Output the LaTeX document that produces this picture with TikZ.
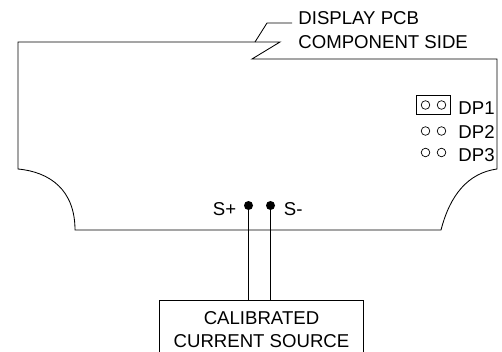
\documentclass[tikz,border=0pt]{standalone}
\usepackage{fontspec}
\setmainfont{Liberation Sans}
\usetikzlibrary{positioning}
\begin{document}
\begin{tikzpicture}[x=1pt,y=-1pt,line width=0.85pt]
        \tikzset{lbl/.style={inner sep=0pt,font=\fontsize{18.6pt}{23.5pt}\selectfont},
                 pin/.style={circle,draw,inner sep=0pt,minimum size=8.6pt,line width=0.7pt},
                 sense/.style={circle,fill=black,inner sep=0pt,minimum size=9pt}}
        \useasboundingbox (0,0) rectangle (502,352);
        % board outline
        \draw (255,42) -- (18,42) -- (18,169) .. controls (50,172) and (75,190) .. (75,230)
            -- (441,230) .. controls (450,195) and (468,173) .. (497,169) -- (497,59) -- (252,59) -- (280,42) -- (255,42);
        \coordinate (lead) at (292,23);
        \draw (255,42) -- (267,23) -- (lead);
        \node[lbl,anchor=west,align=left] (title) at (298,30) {DISPLAY PCB\\COMPONENT SIDE};
        % jumpers
        \node[draw,minimum width=34pt,minimum height=19pt,inner sep=0pt] (jp) at (433,104.5) {};
        \node[pin] (a1) at (425.5,105) {};
        \node[pin] (a2) at (441.5,105) {};
        \node[pin] (b1) at (425.5,131) {};
        \node[pin] (b2) at (441.5,131) {};
        \node[pin] (c1) at (425.5,152.5) {};
        \node[pin] (c2) at (441.5,152.5) {};
        \node[lbl,anchor=west] (dp1) at (458,108) {DP1};
        \node[lbl,anchor=west] (dp2) at (458,132) {DP2};
        \node[lbl,anchor=west] (dp3) at (458,155) {DP3};
        % source
        \node[draw,minimum width=204pt,minimum height=56pt,inner sep=0pt] (src) at (261,328) {};
        \node[lbl,align=center] (srctxt) at (261.5,329.5) {CALIBRATED\\CURRENT SOURCE};
        \node[sense] (sp) at (248.5,205.5) {};
        \node[sense] (sm) at (270.5,205.5) {};
        \node[lbl,left=7pt of sp,yshift=-3.5pt] (splus) {S+};
        \node[lbl,right=8pt of sm,yshift=-3.5pt] (sminus) {S-};
        \draw (sp) -- (sp |- src.north);
        \draw (sm) -- (sm |- src.north);
\end{tikzpicture}
\end{document}
